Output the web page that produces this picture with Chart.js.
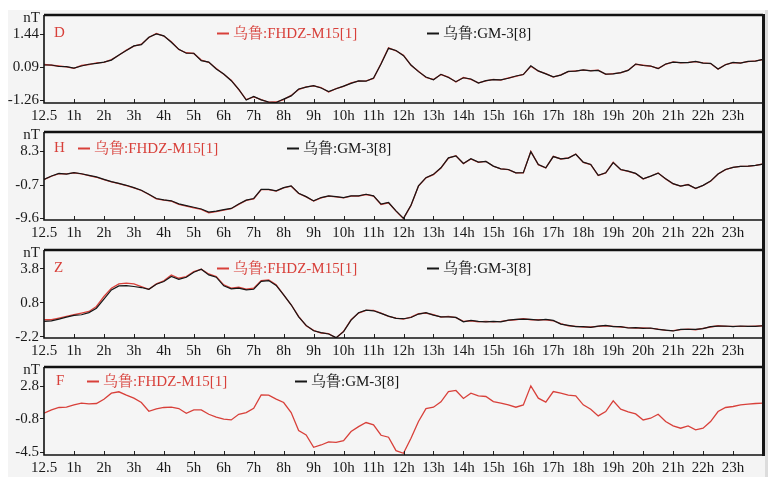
<!DOCTYPE html>
<html>
<head>
<meta charset="utf-8">
<script src="https://cdn.jsdelivr.net/npm/chart.js@4.4.1/dist/chart.umd.min.js"></script>
<style>
  html, body { margin: 0; padding: 0; background: #ffffff; }
  #wrap { position: relative; width: 779px; height: 484px; overflow: hidden; }
  #bg { position: absolute; left: 8px; top: 10px; width: 757px; height: 467px; background: #f4f4f4; }
  #strip { position: absolute; left: 765px; top: 10px; width: 3px; height: 467px; background: #dcdcdc; }
  #rline { position: absolute; left: 762px; top: 14px; width: 3px; height: 442px; background: #151515; }
  canvas { position: absolute; left: 0; }
</style>
</head>
<body>
<div id="wrap">
  <div id="bg"></div>
  <div id="strip"></div>
  <canvas id="cD" width="779" height="130" style="top:0px"></canvas>
  <canvas id="cH" width="779" height="130" style="top:117px"></canvas>
  <canvas id="cZ" width="779" height="130" style="top:235px"></canvas>
  <canvas id="cF" width="779" height="130" style="top:352px"></canvas>
  <div id="rline"></div>
</div>
<script>
// ---------------- DATA ----------------
const hours = [
  0,0.25,0.5,0.75, 1,1.25,1.5,1.75, 2,2.25,2.5,2.75, 3,3.25,3.5,3.75,
  4,4.25,4.5,4.75, 5,5.25,5.5,5.75, 6,6.25,6.5,6.75, 7,7.25,7.5,7.75,
  8,8.25,8.5,8.75, 9,9.25,9.5,9.75, 10,10.25,10.5,10.75, 11,11.25,11.5,11.75,
  12,12.25,12.5,12.75, 13,13.25,13.5,13.75, 14,14.25,14.5,14.75, 15,15.25,15.5,15.75,
  16,16.25,16.5,16.75, 17,17.25,17.5,17.75, 18,18.25,18.5,18.75, 19,19.25,19.5,19.75,
  20,20.25,20.5,20.75, 21,21.25,21.5,21.75, 22,22.25,22.5,22.75, 23,23.25,23.5,23.75, 24
];
const xTickLabels = ["12.5","1h","2h","3h","4h","5h","6h","7h","8h","9h","10h","11h",
  "12h","13h","14h","15h","16h","17h","18h","19h","20h","21h","22h","23h"];
const seriesNames = ["乌鲁:FHDZ-M15[1]", "乌鲁:GM-3[8]"];

const D_fhdz = [
  0.20,0.17,0.14,0.10, 0.04,0.16,0.20,0.27, 0.29,0.40,0.58,0.79, 0.95,1.03,1.30,1.47,
  1.36,1.13,0.81,0.68, 0.65,0.38,0.29,0.04, -0.20,-0.44,-0.82,-1.23, -1.12,-1.23,-1.34,-1.33,
  -1.23,-1.06,-0.82,-0.71, -0.67,-0.74,-0.92,-0.78, -0.69,-0.55,-0.48,-0.47, -0.37,0.24,0.88,0.76,
  0.58,0.17,-0.07,-0.33, -0.41,-0.21,-0.31,-0.51, -0.33,-0.41,-0.55,-0.47, -0.41,-0.44,-0.35,-0.28,
  -0.20,0.13,-0.07,-0.17, -0.31,-0.22,-0.09,-0.06, -0.03,-0.05,-0.03,-0.20, -0.17,-0.14,-0.03,0.21,
  0.17,0.13,0.04,0.21, 0.31,0.27,0.29,0.32, 0.27,0.24,0.01,0.20, 0.28,0.27,0.32,0.35, 0.40
];
const D_gm = [
  0.18,0.18,0.12,0.11, 0.05,0.14,0.21,0.25, 0.30,0.38,0.59,0.77, 0.96,1.01,1.31,1.45,
  1.37,1.11,0.82,0.66, 0.66,0.36,0.30,0.02, -0.19,-0.46,-0.81,-1.25, -1.10,-1.24,-1.33,-1.35,
  -1.21,-1.08,-0.80,-0.72, -0.66,-0.76,-0.90,-0.79, -0.68,-0.57,-0.47,-0.48, -0.35,0.22,0.86,0.77,
  0.56,0.18,-0.09,-0.31, -0.42,-0.20,-0.33,-0.50, -0.34,-0.39,-0.56,-0.46, -0.42,-0.43,-0.36,-0.27,
  -0.21,0.15,-0.06,-0.18, -0.30,-0.23,-0.08,-0.07, -0.02,-0.06,-0.04,-0.19, -0.18,-0.13,-0.04,0.22,
  0.16,0.14,0.03,0.22, 0.30,0.28,0.28,0.33, 0.26,0.25,0.02,0.19, 0.29,0.26,0.33,0.34, 0.41
];
const H_fhdz = [
  0.75,1.64,2.35,2.26, 2.52,2.26,1.82,1.37, 0.75,0.13,-0.31,-0.84, -1.46,-2.17,-3.24,-4.39,
  -4.74,-5.01,-5.89,-6.34, -6.78,-7.22,-8.11,-7.84, -7.40,-7.04,-5.89,-4.83, -4.39,-1.91,-1.91,-2.35,
  -1.46,-1.02,-2.97,-3.86, -5.01,-4.12,-3.68,-3.86, -4.12,-3.68,-3.68,-3.24, -3.68,-5.89,-5.45,-7.67,
  -9.70,-6.16,-1.00,1.20, 2.08,3.85,6.51,7.13, 5.00,6.25,5.36,5.63, 4.30,3.59,3.41,2.52,
  2.52,8.28,4.74,3.85, 6.95,6.25,6.51,7.57, 5.36,4.74,1.82,2.52, 5.36,3.41,2.97,2.35,
  0.93,1.64,2.52,0.93, -0.40,-1.02,-0.58,-1.64, -0.84,0.31,2.26,3.41, 4.03,4.30,4.30,4.56, 4.92
];
const H_gm = [
  0.80,1.70,2.40,2.20, 2.58,2.30,1.88,1.45, 0.82,0.20,-0.25,-0.78, -1.40,-2.10,-3.15,-4.30,
  -4.65,-4.92,-5.75,-6.20, -6.65,-7.10,-7.95,-7.70, -7.30,-6.95,-5.80,-4.75, -4.30,-1.85,-1.85,-2.28,
  -1.40,-0.95,-2.90,-3.80, -4.95,-4.05,-3.62,-3.80, -4.05,-3.62,-3.60,-3.18, -3.60,-5.80,-5.38,-7.60,
  -9.60,-6.10,-0.95,1.25, 2.15,3.90,6.55,7.10, 5.05,6.30,5.40,5.60, 4.35,3.62,3.45,2.55,
  2.58,8.20,4.78,3.90, 6.90,6.30,6.48,7.50, 5.40,4.78,1.88,2.55, 5.30,3.45,3.00,2.40,
  0.98,1.68,2.48,0.98, -0.35,-0.98,-0.62,-1.58, -0.80,0.35,2.22,3.45, 4.00,4.28,4.35,4.52, 4.90
];
const Z_fhdz = [
  -0.68,-0.68,-0.53,-0.39, -0.24,-0.09,0.05,0.49, 1.37,2.10,2.48,2.54, 2.48,2.25,2.01,2.48,
  2.75,3.27,2.98,3.13, 3.57,3.77,3.36,3.13, 2.40,2.10,2.19,2.01, 2.10,2.77,2.83,2.40,
  1.52,0.64,-0.39,-1.21, -1.62,-1.85,-1.91,-2.29, -1.70,-0.68,-0.09,0.14, 0.14,-0.09,-0.39,-0.53,
  -0.62,-0.45,-0.15,-0.09, -0.24,-0.45,-0.39,-0.50, -0.83,-0.77,-0.86,-0.83, -0.86,-0.83,-0.74,-0.68,
  -0.59,-0.68,-0.68,-0.68, -0.77,-1.03,-1.21,-1.26, -1.32,-1.32,-1.26,-1.21, -1.26,-1.32,-1.38,-1.41,
  -1.41,-1.44,-1.50,-1.62, -1.64,-1.56,-1.50,-1.56, -1.44,-1.32,-1.21,-1.26, -1.26,-1.26,-1.26,-1.24, -1.21
];
const Z_gm = [
  -0.83,-0.78,-0.62,-0.45, -0.30,-0.24,-0.05,0.34, 1.13,1.95,2.30,2.33, 2.25,2.16,2.01,2.45,
  2.69,3.13,2.89,3.07, 3.51,3.77,3.27,3.07, 2.31,2.04,2.10,1.95, 2.01,2.71,2.77,2.34,
  1.52,0.64,-0.42,-1.18, -1.65,-1.82,-1.94,-2.26, -1.73,-0.71,-0.06,0.17, 0.11,-0.12,-0.36,-0.56,
  -0.59,-0.48,-0.18,-0.06, -0.27,-0.42,-0.42,-0.47, -0.86,-0.74,-0.83,-0.86, -0.83,-0.86,-0.71,-0.65,
  -0.62,-0.65,-0.71,-0.65, -0.74,-1.06,-1.18,-1.29, -1.29,-1.35,-1.24,-1.18, -1.29,-1.29,-1.41,-1.38,
  -1.44,-1.41,-1.53,-1.59, -1.67,-1.53,-1.53,-1.53, -1.47,-1.29,-1.24,-1.23, -1.29,-1.23,-1.26,-1.26, -1.21
];
const F_fhdz = [
  -0.17,0.21,0.47,0.50, 0.76,0.95,0.87,0.91, 1.39,2.06,2.21,1.84, 1.50,1.02,0.05,0.32,
  0.47,0.50,0.35,-0.17, 0.21,0.21,-0.28,-0.61, -0.83,-0.91,-0.28,-0.09, 0.39,1.87,1.84,1.39,
  1.02,-0.09,-2.09,-2.57, -3.95,-3.69,-3.35,-3.39, -3.20,-2.20,-1.65,-1.20, -1.46,-2.61,-2.83,-4.32,
  -4.61,-2.94,-1.09,0.35, 0.50,1.09,2.24,2.36, 1.47,2.06,1.76,1.69, 1.13,0.95,0.76,0.50,
  0.76,2.87,1.50,1.06, 2.24,2.06,1.84,1.76, 0.76,0.28,-0.46,0.02, 1.21,0.28,-0.02,-0.24,
  -0.91,-0.72,-0.28,-1.09, -1.57,-1.83,-1.57,-2.02, -1.83,-1.09,0.02,0.47, 0.58,0.76,0.84,0.91, 0.95
];
const F_gm = [];

const D_ticks = [1.44, 0.09, -1.26];
const H_ticks = [8.3, -0.7, -9.6];
const Z_ticks = [3.8, 0.8, -2.2];
const F_ticks = [2.8, -0.8, -4.5];

// ---------------- STYLE / LAYOUT ----------------
const RED = '#d8403a';
const BLACK = '#161616';
const FONT = '"Liberation Serif", "Noto Serif CJK SC", "Noto Sans CJK SC", serif';

const panels = [
  { id: 'cD', letter: 'D', red: D_fhdz, black: D_gm, ticks: D_ticks, min: -1.37, max: 2.22,
    letterX: 54, legY: 18, redX: 217, blackX: 427 },
  { id: 'cH', letter: 'H', red: H_fhdz, black: H_gm, ticks: H_ticks, min: -10.05, max: 13.46,
    letterX: 54, legY: 16, redX: 78, blackX: 287 },
  { id: 'cZ', letter: 'Z', red: Z_fhdz, black: Z_gm, ticks: Z_ticks, min: -2.29, max: 5.47,
    letterX: 54, legY: 18, redX: 217, blackX: 427 },
  { id: 'cF', letter: 'F', red: F_fhdz, black: F_gm, ticks: F_ticks, min: -4.80, max: 4.96,
    letterX: 56, legY: 14, redX: 87, blackX: 295 }
];

const decor = {
  id: 'decor',
  beforeDatasetsDraw(chart, args, o) {
    const { ctx, chartArea: a } = chart;
    ctx.save();
    ctx.fillStyle = '#f5f5f5';
    ctx.fillRect(a.left, a.top, a.right - a.left, a.bottom - a.top);
    ctx.restore();
  },
  afterDraw(chart, args, o) {
    const { ctx, chartArea: a } = chart;
    const xs = chart.scales.x;
    ctx.save();
    // inner x ticks
    ctx.strokeStyle = '#222';
    ctx.lineWidth = 1;
    xs.ticks.forEach(t => {
      if (t.value <= 0 || t.value >= 24) return;
      const px = Math.round(xs.getPixelForValue(t.value)) + 0.5;
      ctx.beginPath(); ctx.moveTo(px, a.bottom); ctx.lineTo(px, a.bottom - 4); ctx.stroke();
    });
    // frame
    ctx.strokeStyle = '#111';
    ctx.lineWidth = 1.6;
    ctx.beginPath(); ctx.moveTo(a.left, a.top); ctx.lineTo(a.left, a.bottom); ctx.lineTo(a.right, a.bottom); ctx.stroke();
    ctx.lineWidth = 2.4;
    ctx.beginPath(); ctx.moveTo(a.left, a.top); ctx.lineTo(a.right, a.top); ctx.stroke();
    // unit label
    ctx.font = '15px ' + FONT;
    ctx.fillStyle = '#222';
    ctx.textAlign = 'right';
    ctx.textBaseline = 'middle';
    ctx.fillText('nT', a.left - 4, a.top + 3);
    // panel letter
    ctx.textAlign = 'left';
    ctx.fillStyle = RED;
    const ly = a.top + o.legY;
    ctx.fillText(o.letter, o.letterX, ly);
    // legends
    const ds = chart.data.datasets;
    const entries = [[ds[1], o.redX], [ds[0], o.blackX]];
    entries.forEach(([d, x]) => {
      ctx.strokeStyle = d.borderColor;
      ctx.lineWidth = 2;
      ctx.beginPath(); ctx.moveTo(x, ly + 0.5); ctx.lineTo(x + 12, ly + 0.5); ctx.stroke();
      ctx.fillStyle = d.borderColor;
      ctx.fillText(d.label, x + 16, ly + 1);
    });
    ctx.restore();
  }
};

panels.forEach(p => {
  const toPts = arr => arr.map((v, i) => ({ x: hours[i], y: v }));
  new Chart(document.getElementById(p.id), {
    type: 'line',
    data: {
      datasets: [
        { label: seriesNames[1], data: toPts(p.black), borderColor: BLACK, borderWidth: 1.2,
          pointRadius: 0, tension: 0, fill: false },
        { label: seriesNames[0], data: toPts(p.red), borderColor: RED, borderWidth: 1.3,
          pointRadius: 0, tension: 0, fill: false }
      ]
    },
    options: {
      responsive: false,
      animation: false,
      devicePixelRatio: 1,
      layout: { padding: { top: 15, right: 16, left: 0, bottom: 0 } },
      plugins: {
        legend: { display: false },
        tooltip: { enabled: false },
        decor: { letter: p.letter, letterX: p.letterX, legY: p.legY, redX: p.redX, blackX: p.blackX }
      },
      scales: {
        x: {
          type: 'linear', min: 0, max: 24,
          afterFit: s => { s.height = 27; },
          ticks: {
            stepSize: 1, autoSkip: false, maxRotation: 0, padding: 4,
            color: '#1a1a1a', font: { family: FONT, size: 15 },
            callback: v => (xTickLabels[v] !== undefined ? xTickLabels[v] : '')
          },
          grid: { display: false, drawTicks: false },
          border: { display: false }
        },
        y: {
          type: 'linear', min: p.min, max: p.max,
          afterFit: s => { s.width = 44; },
          afterBuildTicks: s => { s.ticks = p.ticks.map(v => ({ value: v })); },
          ticks: {
            padding: 1, color: '#1a1a1a', font: { family: FONT, size: 15 },
            callback: v => String(v)
          },
          grid: { drawOnChartArea: false, drawTicks: true, tickLength: 4, color: '#222', lineWidth: 1 },
          border: { display: false }
        }
      }
    },
    plugins: [decor]
  });
});
</script>
</body>
</html>
